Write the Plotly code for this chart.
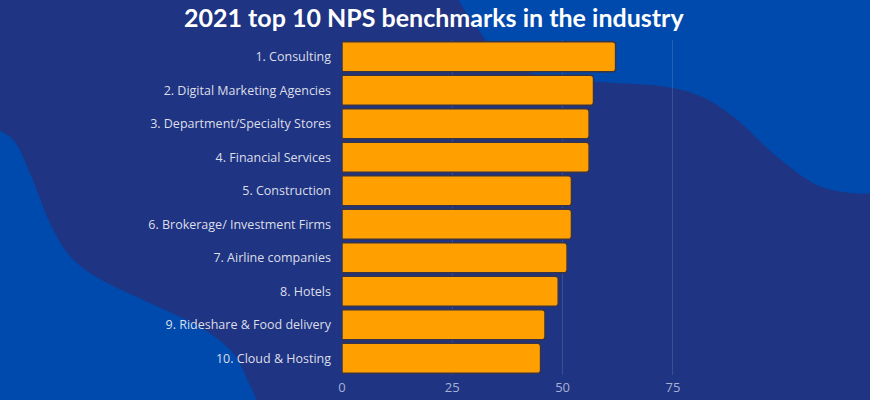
import plotly.graph_objects as go

# dados
categorias = [
    "1. Consulting",
    "2. Digital Marketing Agencies",
    "3. Department/Specialty Stores",
    "4. Financial Services",
    "5. Construction",
    "6. Brokerage/ Investment Firms",
    "7. Airline companies",
    "8. Hotels",
    "9. Rideshare & Food delivery",
    "10. Cloud & Hosting",
]
nps = [62, 57, 56, 56, 52, 52, 51, 49, 46, 45]
ticks_x = [0, 25, 50, 75]

# tamanho e margens (px)
W, H = 870, 400
ml, mr, mt, mb = 342, 175, 40, 25
pw = W - ml - mr
ph = H - mt - mb

cor_fundo = "#1f3482"
cor_blob = "#004aad"
cor_barra = "#ffa000"


def px2paper(pts):
    # converte pontos em pixels para coordenadas paper
    return [((x - ml) / pw, (H - mb - y) / ph) for x, y in pts]


def caminho(pts):
    p = px2paper(pts)
    s = "M %f,%f " % p[0]
    # curva suave via Catmull-Rom -> bezier
    for i in range(len(p) - 1):
        p0 = p[i - 1] if i > 0 else p[i]
        p1 = p[i]
        p2 = p[i + 1]
        p3 = p[i + 2] if i + 2 < len(p) else p2
        c1 = (p1[0] + (p2[0] - p0[0]) / 6, p1[1] + (p2[1] - p0[1]) / 6)
        c2 = (p2[0] - (p3[0] - p1[0]) / 6, p2[1] - (p3[1] - p1[1]) / 6)
        s += "C %f,%f %f,%f %f,%f " % (c1[0], c1[1], c2[0], c2[1], p2[0], p2[1])
    return s


# mancha azul clara do canto superior direito
borda_dir = [(455, -5), (475, 25), (500, 55), (540, 76), (600, 82), (660, 86),
             (700, 96), (735, 118), (775, 155), (815, 184), (850, 193), (875, 193)]
blob_dir = caminho(borda_dir) + "L %f,%f L %f,%f Z" % (
    px2paper([(875, -5)])[0] + px2paper([(455, -5)])[0])

# mancha azul clara da esquerda
borda_esq = [(-5, 128), (15, 142), (32, 178), (50, 223), (70, 256), (100, 279),
             (150, 303), (200, 327), (232, 352), (250, 385), (258, 405)]
blob_esq = caminho(borda_esq) + "L %f,%f Z" % px2paper([(-5, 405)])[0]

fig = go.Figure(go.Bar(
    x=nps,
    y=categorias,
    orientation="h",
    marker=dict(color=cor_barra, line=dict(color="#3b3444", width=1.5), cornerradius=3),
    hoverinfo="x+y",
))

fig.update_layout(
    width=W, height=H,
    margin=dict(l=ml, r=mr, t=mt, b=mb),
    paper_bgcolor=cor_fundo,
    plot_bgcolor="rgba(0,0,0,0)",
    showlegend=False,
    bargap=0.1,
    shapes=[
        dict(type="path", path=blob_dir, xref="paper", yref="paper",
             fillcolor=cor_blob, line=dict(width=0), layer="below"),
        dict(type="path", path=blob_esq, xref="paper", yref="paper",
             fillcolor=cor_blob, line=dict(width=0), layer="below"),
    ],
    annotations=[dict(
        text="<b>2021 top 10 NPS benchmarks in the industry</b>",
        xref="paper", yref="paper", x=(434 - ml) / pw, y=(H - mb) / ph,
        xanchor="center", yanchor="top", showarrow=False,
        font=dict(family="Lato", size=25, color="white"),
    )],
    xaxis=dict(
        range=[0, 80], tickvals=ticks_x,
        showgrid=True, gridcolor="rgba(255,255,255,0.13)", gridwidth=1,
        zeroline=False, showline=False, automargin=False,
        tickfont=dict(family="Open Sans", size=13, color="#a9b1d6"),
        ticklabelstandoff=3,
    ),
    yaxis=dict(
        autorange="reversed", showgrid=False, zeroline=False, showline=False,
        automargin=False,
        tickfont=dict(family="Open Sans", size=12.5, color="#dcdee8"),
        ticklabelstandoff=10,
    ),
)

fig.write_html("out.html", config={"displayModeBar": False})

# tira a margem branca da pagina
with open("out.html", encoding="utf-8") as f:
    pagina = f.read()
pagina = pagina.replace("<body>", '<body style="margin:0;overflow:hidden">', 1)
with open("out.html", "w", encoding="utf-8") as f:
    f.write(pagina)
